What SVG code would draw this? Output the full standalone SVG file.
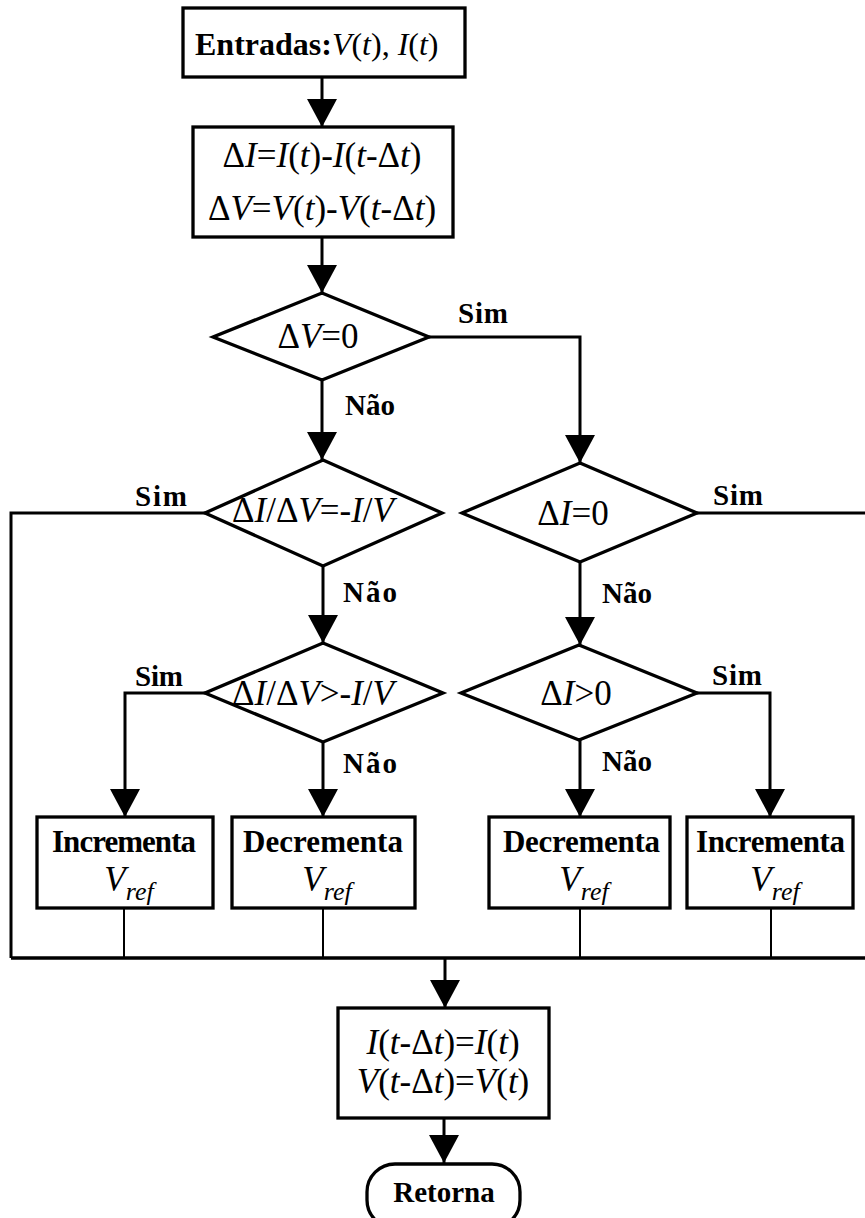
<svg xmlns="http://www.w3.org/2000/svg" width="865" height="1218" viewBox="0 0 865 1218">
<style>
.box{fill:#fff;stroke:#000;stroke-width:3.3}
.ln{fill:none;stroke:#000;stroke-width:3}
.thin{fill:none;stroke:#000;stroke-width:2}
.bus{fill:none;stroke:#000;stroke-width:3.5}
text{font-family:"Liberation Serif","DejaVu Serif",serif;fill:#000}
.f{font-size:35px;font-weight:normal}
.i{font-style:italic}
.b{font-weight:bold;font-size:29px}
.bx{font-weight:bold;font-size:31px}
</style>
<defs>
<marker id="ah" viewBox="0 0 28 30" refX="28" refY="15" markerWidth="28" markerHeight="30" markerUnits="userSpaceOnUse" orient="auto">
<path d="M0,0 L28,15 L0,30 Z" fill="#000"/>
</marker>
</defs>
<rect width="865" height="1218" fill="#fff"/>
<g id="connectors">
<path class="ln" d="M322,77 V127" marker-end="url(#ah)"/>
<path class="ln" d="M322,237 V293" marker-end="url(#ah)"/>
<path class="ln" d="M322,380 V460" marker-end="url(#ah)"/>
<path class="ln" d="M429,337 H580 V463" marker-end="url(#ah)"/>
<path class="ln" d="M323,566 V643" marker-end="url(#ah)"/>
<path class="ln" d="M580,562 V645" marker-end="url(#ah)"/>
<path class="ln" d="M323,742 V817" marker-end="url(#ah)"/>
<path class="ln" d="M580,740 V817" marker-end="url(#ah)"/>
<path class="ln" d="M205,693 H125 V817" marker-end="url(#ah)"/>
<path class="ln" d="M697,693 H770 V817" marker-end="url(#ah)"/>
<path class="ln" d="M205,513 H11 V958"/>
<path class="ln" d="M697,513 H868 V958"/>
<path class="bus" d="M11,958 H868"/>
<path class="thin" d="M124,908 V958 M323,908 V958 M580,908 V958 M771,908 V958"/>
<path class="ln" d="M445,958 V1008" marker-end="url(#ah)"/>
<path class="ln" d="M444,1118 V1163" marker-end="url(#ah)"/>
<text class="b" x="458" y="323" textLength="50">Sim</text>
<text class="b" x="345" y="415" textLength="50">Não</text>
<text class="b" x="135" y="506" textLength="52">Sim</text>
<text class="b" x="713" y="505" textLength="50">Sim</text>
<text class="b" x="343" y="602" textLength="54">Não</text>
<text class="b" x="602" y="603" textLength="50">Não</text>
<text class="b" x="135" y="686" textLength="48">Sim</text>
<text class="b" x="712" y="685" textLength="50">Sim</text>
<text class="b" x="343" y="773" textLength="54">Não</text>
<text class="b" x="602" y="771" textLength="50">Não</text>
</g>
<g id="n-entradas">
<rect class="box" x="183" y="8" width="282" height="69"/>
<text x="195" y="55" font-size="32"><tspan font-weight="bold">Entradas:</tspan><tspan class="i">V</tspan>(<tspan class="i">t</tspan>), <tspan class="i">I</tspan>(<tspan class="i">t</tspan>)</text>
</g>
<g id="n-delta">
<rect class="box" x="193" y="127" width="260" height="110"/>
<text class="f" x="322" y="167" text-anchor="middle">Δ<tspan class="i">I</tspan>=<tspan class="i">I</tspan>(<tspan class="i">t</tspan>)-<tspan class="i">I</tspan>(<tspan class="i">t</tspan>-Δ<tspan class="i">t</tspan>)</text>
<text class="f" x="322" y="220" text-anchor="middle">Δ<tspan class="i">V</tspan>=<tspan class="i">V</tspan>(<tspan class="i">t</tspan>)-<tspan class="i">V</tspan>(<tspan class="i">t</tspan>-Δ<tspan class="i">t</tspan>)</text>
</g>
<g id="d-dv0">
<polygon class="box" points="322,293 429,337 322,380 213,337"/>
<text class="f" x="318" y="348" text-anchor="middle">Δ<tspan class="i">V</tspan>=0</text>
</g>
<g id="d-didv">
<polygon class="box" points="323,460 442,513 323,566 205,513"/>
<text class="f" x="313" y="522" text-anchor="middle">Δ<tspan class="i">I</tspan>/Δ<tspan class="i">V</tspan>=-<tspan class="i">I</tspan>/<tspan class="i">V</tspan></text>
</g>
<g id="d-di0">
<polygon class="box" points="580,463 697,513 580,562 462,513"/>
<text class="f" x="573" y="525" text-anchor="middle">Δ<tspan class="i">I</tspan>=0</text>
</g>
<g id="d-didvgt">
<polygon class="box" points="323,643 443,693 323,742 205,693"/>
<text class="f" x="313" y="705" text-anchor="middle">Δ<tspan class="i">I</tspan>/Δ<tspan class="i">V</tspan>&gt;-<tspan class="i">I</tspan>/<tspan class="i">V</tspan></text>
</g>
<g id="d-digt0">
<polygon class="box" points="579,645 697,693 579,740 461,693"/>
<text class="f" x="576" y="705" text-anchor="middle">Δ<tspan class="i">I</tspan>&gt;0</text>
</g>
<g id="b-inc1">
<rect class="box" x="37" y="817" width="176" height="91"/>
<text class="bx" x="52" y="852" textLength="144">Incrementa</text>
<text class="f i" x="129" y="891" text-anchor="middle">V<tspan font-size="26" dy="9">ref</tspan></text>
</g>
<g id="b-dec1">
<rect class="box" x="232" y="817" width="183" height="91"/>
<text class="bx" x="243" y="852" textLength="160">Decrementa</text>
<text class="f i" x="327" y="891" text-anchor="middle">V<tspan font-size="26" dy="9">ref</tspan></text>
</g>
<g id="b-dec2">
<rect class="box" x="489" y="817" width="181" height="91"/>
<text class="bx" x="503" y="852" textLength="157">Decrementa</text>
<text class="f i" x="584" y="891" text-anchor="middle">V<tspan font-size="26" dy="9">ref</tspan></text>
</g>
<g id="b-inc2">
<rect class="box" x="687" y="817" width="166" height="91"/>
<text class="bx" x="696" y="852" textLength="149">Incrementa</text>
<text class="f i" x="775" y="891" text-anchor="middle">V<tspan font-size="26" dy="9">ref</tspan></text>
</g>
<g id="n-update">
<rect class="box" x="338" y="1008" width="211" height="110"/>
<text class="f" x="443" y="1054" text-anchor="middle"><tspan class="i">I</tspan>(<tspan class="i">t</tspan>-Δ<tspan class="i">t</tspan>)=<tspan class="i">I</tspan>(<tspan class="i">t</tspan>)</text>
<text class="f" x="443" y="1093" text-anchor="middle"><tspan class="i">V</tspan>(<tspan class="i">t</tspan>-Δ<tspan class="i">t</tspan>)=<tspan class="i">V</tspan>(<tspan class="i">t</tspan>)</text>
</g>
<g id="t-retorna">
<rect class="box" x="367" y="1164" width="153" height="64" rx="28" ry="28"/>
<text class="b" x="444" y="1202" text-anchor="middle">Retorna</text>
</g>
</svg>
